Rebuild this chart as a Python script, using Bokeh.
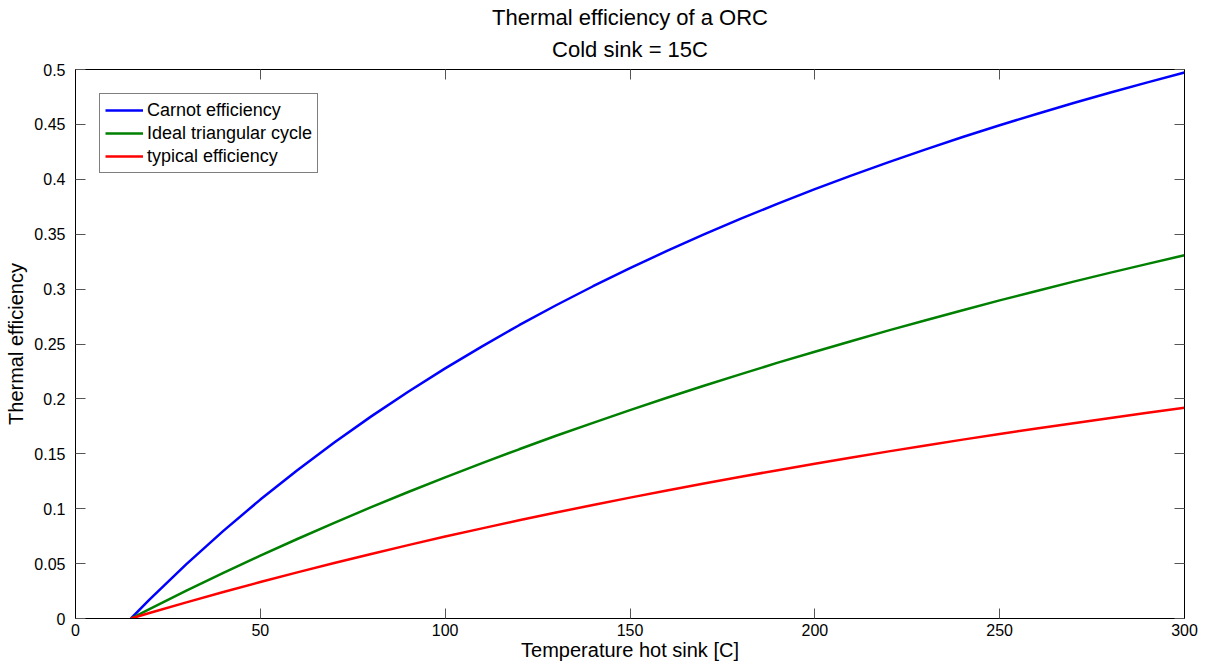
from bokeh.plotting import figure
from bokeh.models import (Range1d, LinearAxis, FixedTicker, Title, Legend, LegendItem,
                          CustomLabelingPolicy)
from bokeh.embed import file_html
from bokeh.resources import INLINE

# Hot-sink temperature [C]
temp_hot = [15, 20, 30, 40, 50, 60, 70, 80, 90, 100, 110, 120, 130, 140, 150,
            160, 170, 180, 190, 200, 210, 220, 230, 240, 250, 260, 270, 280, 290, 300]
carnot = [0.0, 0.0171, 0.0495, 0.0798, 0.1083, 0.1351, 0.1603, 0.1841, 0.2065, 0.2278,
          0.2479, 0.2671, 0.2853, 0.3026, 0.3190, 0.3348, 0.3498, 0.3641, 0.3779, 0.3910,
          0.4036, 0.4157, 0.4273, 0.4385, 0.4492, 0.4595, 0.4695, 0.4791, 0.4883, 0.4973]
triangular = [0.0, 0.0086, 0.0254, 0.0416, 0.0573, 0.0724, 0.0871, 0.1014, 0.1152, 0.1285,
              0.1415, 0.1541, 0.1664, 0.1782, 0.1898, 0.2010, 0.2120, 0.2226, 0.2330, 0.2430,
              0.2528, 0.2624, 0.2717, 0.2808, 0.2897, 0.2983, 0.3068, 0.3150, 0.3230, 0.3309]
typical = [0.0, 0.0050, 0.0147, 0.0241, 0.0332, 0.0420, 0.0505, 0.0588, 0.0668, 0.0746,
           0.0821, 0.0894, 0.0965, 0.1034, 0.1101, 0.1166, 0.1229, 0.1291, 0.1351, 0.1409,
           0.1466, 0.1522, 0.1576, 0.1629, 0.1680, 0.1730, 0.1779, 0.1827, 0.1874, 0.1919]

series_names = ["Carnot efficiency", "Ideal triangular cycle", "typical efficiency"]
series_colors = ["#0000ff", "#008000", "#ff0000"]

x_ticks = [0, 50, 100, 150, 200, 250, 300]
y_ticks = [0, 0.05, 0.1, 0.15, 0.2, 0.25, 0.3, 0.35, 0.4, 0.45, 0.5]
y_tick_labels = ["0", "0.05", "0.1", "0.15", "0.2", "0.25", "0.3", "0.35", "0.4", "0.45", "0.5"]

title_lines = ["Thermal efficiency of a ORC", "Cold sink = 15C"]

FONT = "Liberation Sans"

p = figure(width=1207, height=668, output_backend="svg", toolbar_location=None,
           x_range=Range1d(0, 300), y_range=Range1d(0, 0.5),
           min_border_left=75, min_border_right=23, min_border_top=69, min_border_bottom=50,
           x_axis_label="Temperature hot sink [C]", y_axis_label="Thermal efficiency")
p.background_fill_color = "white"
p.border_fill_color = "white"
p.outline_line_color = "black"
p.xgrid.visible = False
p.ygrid.visible = False

renderers = []
for ys, c in zip([carnot, triangular, typical], series_colors):
    renderers.append(p.line(temp_hot, ys, line_color=c, line_width=2.5))

hide_all = CustomLabelingPolicy(code="""
for (const i of indices) { indices.unset(i) }
return indices
""")

def style_axis(ax, show_labels=True):
    ax.axis_line_color = "black"
    ax.axis_line_width = 1
    ax.major_tick_in = 10
    ax.major_tick_out = 0
    ax.minor_tick_in = 0
    ax.minor_tick_out = 0
    ax.major_tick_line_color = "#555555"
    ax.major_label_text_font = FONT
    ax.major_label_text_color = "black"
    ax.axis_label_text_font = FONT
    ax.axis_label_text_font_style = "normal"
    ax.axis_label_text_color = "black"
    if not show_labels:
        ax.major_label_text_font_size = "0px"
        ax.major_label_standoff = 0
        ax.major_label_policy = hide_all

style_axis(p.xaxis[0])
style_axis(p.yaxis[0])
p.xaxis[0].ticker = FixedTicker(ticks=x_ticks)
p.yaxis[0].ticker = FixedTicker(ticks=y_ticks)
p.yaxis[0].major_label_overrides = {t: l for t, l in zip(y_ticks, y_tick_labels)}
p.xaxis[0].major_label_text_font_size = "16px"
p.yaxis[0].major_label_text_font_size = "16px"
p.xaxis[0].axis_label_text_font_size = "20px"
p.yaxis[0].axis_label_text_font_size = "20px"
p.xaxis[0].major_label_standoff = 5
p.xaxis[0].axis_label_standoff = 0
p.yaxis[0].major_label_standoff = 10
p.yaxis[0].axis_label_standoff = 4

ax_r = LinearAxis(ticker=FixedTicker(ticks=y_ticks))
style_axis(ax_r, show_labels=False)
p.add_layout(ax_r, "right")
ax_t = LinearAxis(ticker=FixedTicker(ticks=x_ticks))
style_axis(ax_t, show_labels=False)
p.add_layout(ax_t, "above")

sub = Title(text=title_lines[1], align="center", text_font=FONT, text_font_size="22px",
            text_font_style="normal", text_color="black", standoff=16)
p.add_layout(sub, "above")
main = Title(text=title_lines[0], align="center", text_font=FONT, text_font_size="22px",
             text_font_style="normal", text_color="black", standoff=-6)
p.add_layout(main, "above")

legend = Legend(items=[LegendItem(label=n, renderers=[r]) for n, r in zip(series_names, renderers)],
                location="top_left")
legend.margin = 24
legend.padding = 5
legend.spacing = 1
legend.label_height = 22
legend.glyph_height = 22
legend.glyph_width = 38
legend.label_standoff = 4
legend.label_text_font = FONT
legend.label_text_font_size = "18px"
legend.label_text_color = "black"
legend.border_line_color = "black"
legend.border_line_width = 1
legend.background_fill_color = "white"
legend.background_fill_alpha = 1.0
p.add_layout(legend, "center")

open("out.html", "w").write(file_html(p, INLINE))
